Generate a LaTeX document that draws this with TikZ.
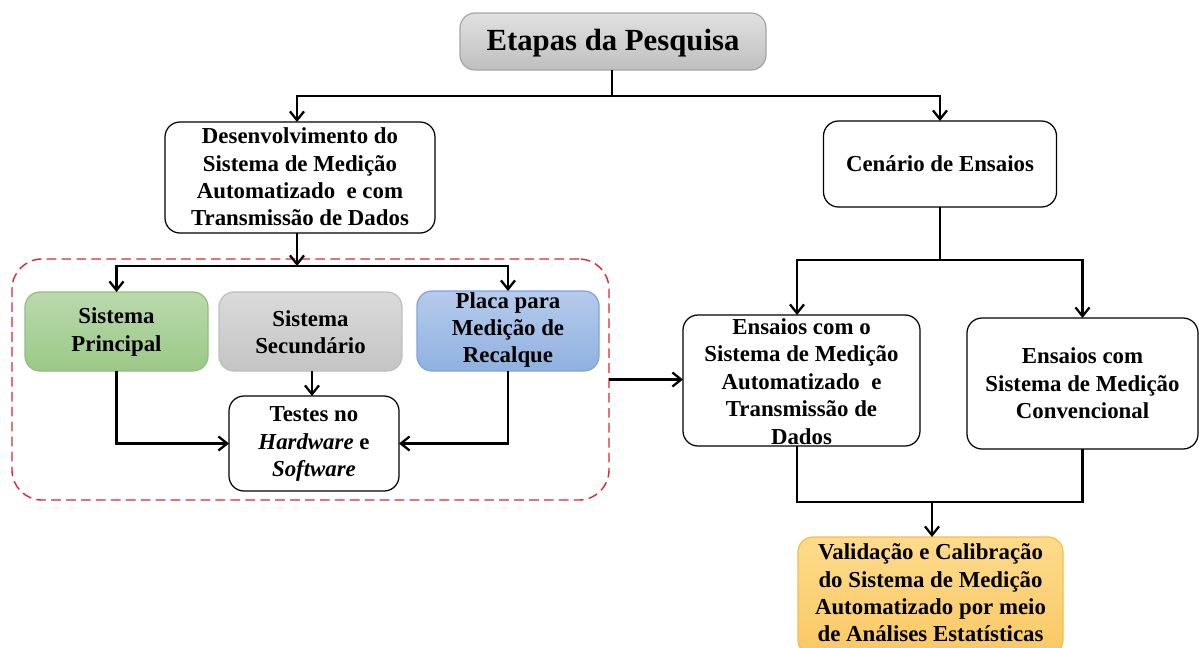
\documentclass[tikz,border=0pt]{standalone}
\usepackage{fontspec}
\setmainfont{Liberation Serif}
\usetikzlibrary{arrows.meta}
\definecolor{dashred}{HTML}{D62A2E}
\begin{document}
\begin{tikzpicture}[x=0.02cm,y=-0.02cm,
  txt/.style={align=center,font=\bfseries\fontsize{13}{15.6}\selectfont,inner sep=0pt},
  box/.style={draw=black,line width=0.7pt,rounded corners=0.3cm,fill=white,inner sep=0pt,outer sep=0pt},
  conn/.style={line width=1.3pt,draw=black},
  arr/.style={conn,-{Straight Barb[length=5pt,width=8pt,line width=1.3pt]}},
]
\useasboundingbox (0,0) rectangle (1199,647);
% dashed group
\node[draw=dashred,dash pattern=on 5.5pt off 3pt,line width=0.8pt,rounded corners=0.6cm,minimum width=597*0.02cm,minimum height=241*0.02cm,inner sep=0pt,outer sep=0pt] (grp) at (310.5,379.5) {};
% boxes
\node[box,draw=black!35,top color=black!12,bottom color=black!25,minimum width=306*0.02cm,minimum height=57*0.02cm] (tit) at (613,41.5) {};
\node[txt,font=\bfseries\fontsize{17.5}{20}\selectfont] (titt) at (613,43) {Etapas da Pesquisa};
\node[box,minimum width=270*0.02cm,minimum height=111*0.02cm] (des) at (300,177.5) {};
\node[txt] (dest) at (300,177) {Desenvolvimento do\\Sistema de Medição\\Automatizado\ \ e com\\Transmissão de Dados};
\node[box,minimum width=233*0.02cm,minimum height=86*0.02cm] (cen) at (940,164) {};
\node[txt] (cent) at (940,164) {Cenário de Ensaios};
\node[box,draw={rgb,255:red,143;green,191;blue,124},top color={rgb,255:red,186;green,217;blue,172},bottom color={rgb,255:red,155;green,200;blue,136},minimum width=183*0.02cm,minimum height=79*0.02cm] (pri) at (116.5,331.5) {};
\node[txt] (prit) at (116.5,332) {Sistema\\Principal};
\node[box,draw={rgb,255:red,190;green,190;blue,190},top color={rgb,255:red,218;green,218;blue,218},bottom color={rgb,255:red,196;green,196;blue,196},minimum width=183*0.02cm,minimum height=79*0.02cm] (sec) at (310.5,331.5) {};
\node[txt] (sect) at (310.5,332) {Sistema\\Secundário};
\node[box,draw={rgb,255:red,125;green,164;blue,219},top color={rgb,255:red,182;green,203;blue,236},bottom color={rgb,255:red,143;green,177;blue,224},minimum width=182*0.02cm,minimum height=80*0.02cm] (pla) at (508,331) {};
\node[txt] (plat) at (508,330) {Placa para\\Medição de\\Recalque};
\node[box,minimum width=170*0.02cm,minimum height=95*0.02cm] (tes) at (314,443.5) {};
\node[txt] (test) at (314,444) {Testes no\\\textit{Hardware} e\\\textit{Software}};
\node[box,minimum width=237*0.02cm,minimum height=131*0.02cm] (ea) at (801.5,380.5) {};
\node[txt] (eat) at (801.5,381.5) {Ensaios com o\\Sistema de Medição\\Automatizado\ \ e\\Transmissão de\\Dados};
\node[box,minimum width=231*0.02cm,minimum height=131*0.02cm] (eb) at (1082.5,383.5) {};
\node[txt] (ebt) at (1082.5,383.5) {Ensaios com\\Sistema de Medição\\Convencional};
\node[box,draw={rgb,255:red,247;green,190;blue,70},top color={rgb,255:red,253;green,219;blue,140},bottom color={rgb,255:red,249;green,200;blue,100},minimum width=265*0.02cm,minimum height=118*0.02cm] (val) at (930.5,596) {};
\node[txt] (valt) at (930.5,593) {Validação e Calibração\\do Sistema de Medição\\Automatizado por meio\\de Análises Estatísticas};
% junctions
\coordinate (j1) at (612,96);
\coordinate (j2) at (297,266);
\coordinate (j3) at (940,260);
\coordinate (j4) at (932,502);
% connectors
\draw[conn] (tit.south -| j1) -- (j1);
\draw[arr] (j1) -| (des.north -| j2);
\draw[arr] (j1) -| (cen.north);
\draw[arr] (des.south -| j2) -- (j2);
\draw[arr] (j2) -| (pri.north);
\draw[arr] (j2) -| (pla.north);
\draw[arr] (sec.south -| 312,0) -- (tes.north -| 312,0);
\draw[arr] (pri.south) |- (tes.west);
\draw[arr] (pla.south) |- (tes.east);
\draw[arr] (grp.east) -- (grp.east -| ea.west);
\draw[conn] (cen.south) -- (j3);
\draw[arr] (j3) -| (ea.north -| 797,0);
\draw[arr] (j3) -| (eb.north);
\draw[conn] (ea.south -| 797,0) |- (j4) -| (eb.south);
\draw[arr] (j4) -- (val.north -| j4);
\end{tikzpicture}
\end{document}
